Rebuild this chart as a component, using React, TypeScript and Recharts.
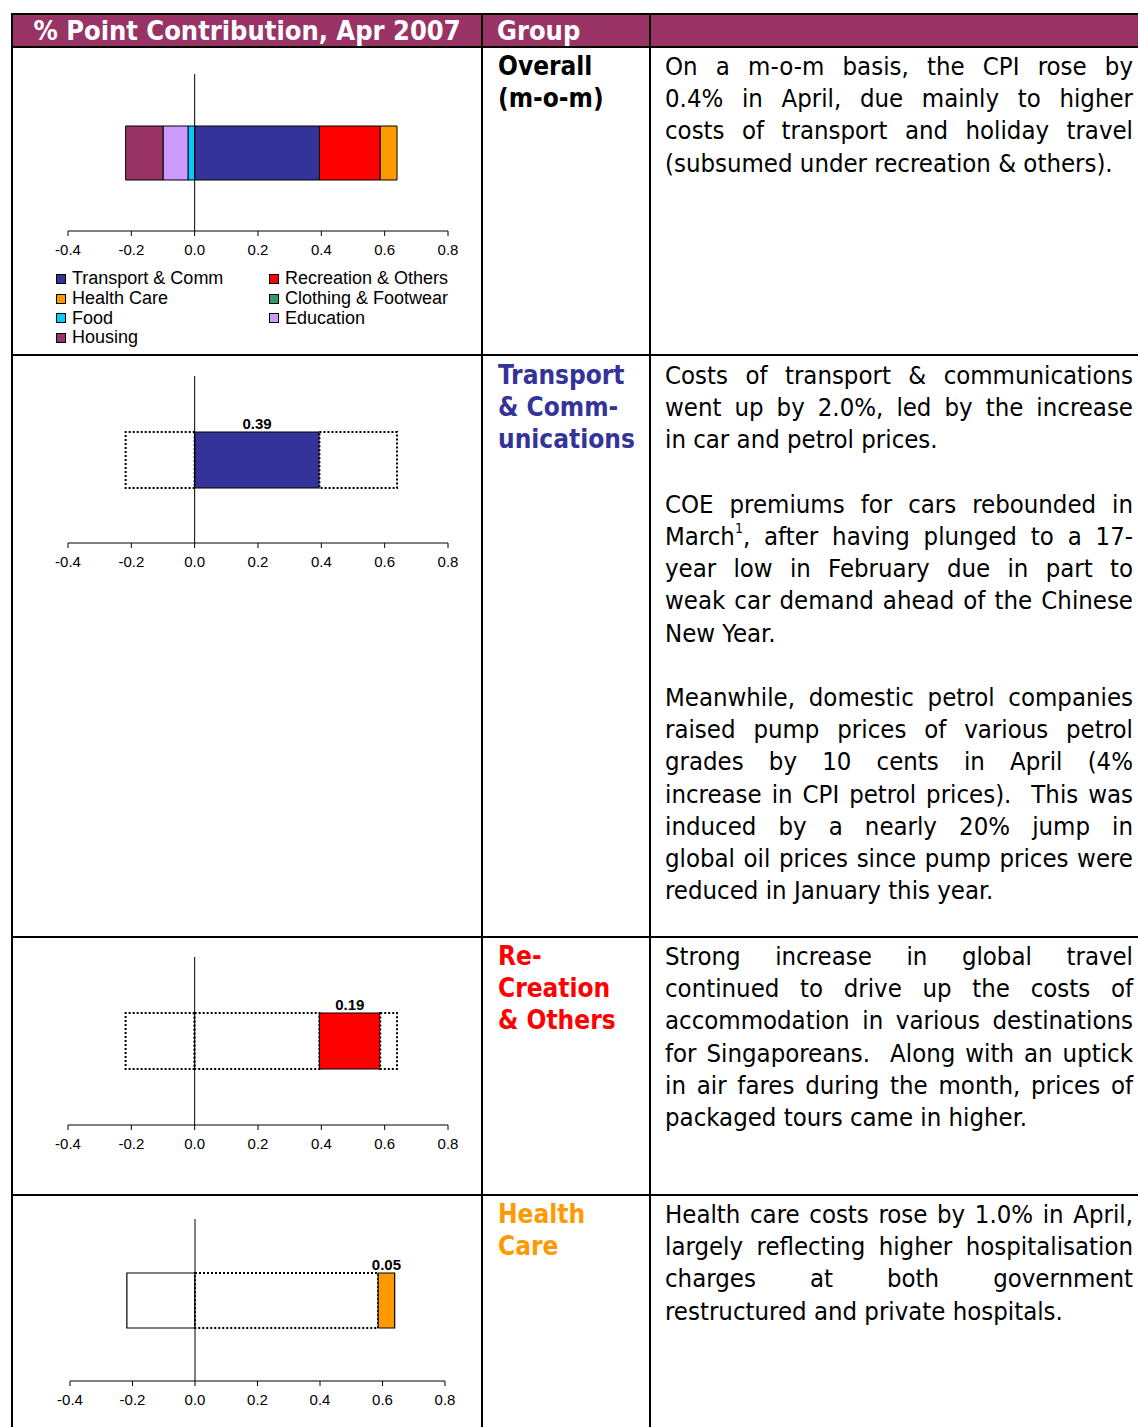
import React from 'react';
import { BarChart, Bar, XAxis, YAxis, ReferenceLine, Legend, LabelList } from 'recharts';

// values (% point contribution to m-o-m CPI change, Apr 2007)
const categories = ['Apr 2007'];
const groupNames = [
  'Transport & Comm',
  'Recreation & Others',
  'Health Care',
  'Clothing & Footwear',
  'Food',
  'Education',
  'Housing',
];
const contributions = [0.394, 0.192, 0.053, 0.0, -0.021, -0.079, -0.118];
const groupColors = ['#333399', '#FF0000', '#FF9900', '#339966', '#00CCFF', '#CC99FF', '#993366'];
const xTicks = [-0.4, -0.2, 0, 0.2, 0.4, 0.6, 0.8];

const CHART_FONT = '"Liberation Sans", Arial, sans-serif';
const TEXT_FONT = '"DejaVu Sans Condensed", "DejaVu Sans", sans-serif';
const HEADER_BG = '#993366';
const LINE_H = 32.2;

// text column, one entry per printed line; '' = blank line, last line of a paragraph ends with '|'
const overallText = [
  'On a m-o-m basis, the CPI rose by',
  '0.4% in April, due mainly to higher',
  'costs of transport and holiday travel',
  '(subsumed under recreation & others).|',
];
const transportText = [
  'Costs of transport & communications',
  'went up by 2.0%, led by the increase',
  'in car and petrol prices.|',
  '',
  'COE premiums for cars rebounded in',
  'March^1, after having plunged to a 17-',
  'year low in February due in part to',
  'weak car demand ahead of the Chinese',
  'New Year.|',
  '',
  'Meanwhile, domestic petrol companies',
  'raised pump prices of various petrol',
  'grades by 10 cents in April (4%',
  'increase in CPI petrol prices).  This was',
  'induced by a nearly 20% jump in',
  'global oil prices since pump prices were',
  'reduced in January this year.|',
];
const recreationText = [
  'Strong increase in global travel',
  'continued to drive up the costs of',
  'accommodation in various destinations',
  'for Singaporeans.  Along with an uptick',
  'in air fares during the month, prices of',
  'packaged tours came in higher.|',
];
const healthText = [
  'Health care costs rose by 1.0% in April,',
  'largely reflecting higher hospitalisation',
  'charges at both government',
  'restructured and private hospitals.|',
];

const overallData = categories.map((name) => {
  const row: Record<string, any> = { name };
  contributions.forEach((v, i) => {
    row[`k${i}`] = v;
  });
  return row;
});

function detailData(h: number) {
  let neg = 0;
  let before = 0;
  let after = 0;
  contributions.forEach((v, i) => {
    if (v < 0) neg += v;
    else if (i < h) before += v;
    else if (i > h) after += v;
  });
  return categories.map((name) => ({ name, neg, before, hi: contributions[h], after }));
}

const axisProps = {
  type: 'number' as const,
  domain: [-0.4, 0.8],
  ticks: xTicks,
  interval: 0 as const,
  allowDataOverflow: true,
  tickFormatter: (v: number) => v.toFixed(1),
  axisLine: { stroke: '#000' },
  tickLine: { stroke: '#000' },
  tickSize: 5,
  tickMargin: 8,
  tick: { fill: '#000', fontSize: 15, fontFamily: CHART_FONT },
};

const renderLegend = (props: any) => {
  const payload = props.payload || [];
  const items = groupNames
    .map((n) => payload.find((p: any) => p.value === n))
    .filter(Boolean);
  return (
    <div style={{ position: 'relative', width: 470, height: 82, fontFamily: CHART_FONT, fontSize: 18, color: '#000' }}>
      {items.map((it: any, i: number) => (
        <div
          key={it.value}
          style={{
            position: 'absolute',
            left: i % 2 === 0 ? 44 : 257,
            top: 1 + Math.floor(i / 2) * 19.7,
            height: 19.7,
            display: 'flex',
            alignItems: 'center',
            whiteSpace: 'nowrap',
          }}
        >
          <span style={{ width: 8, height: 8, border: '1px solid #000', background: it.color, marginRight: 6 }} />
          <span>{it.value}</span>
        </div>
      ))}
    </div>
  );
};

function OverallChart() {
  return (
    <BarChart
      width={470}
      height={308}
      data={overallData}
      layout="vertical"
      stackOffset="sign"
      barSize={54}
      margin={{ top: 27, right: 34, left: 56, bottom: 5 }}
    >
      <XAxis {...axisProps} height={37} />
      <YAxis type="category" dataKey="name" hide />
      {groupNames.map((g, i) => (
        <Bar
          key={g}
          dataKey={`k${i}`}
          name={g}
          stackId="a"
          fill={groupColors[i]}
          stroke="#000"
          strokeWidth={1}
          isAnimationActive={false}
        />
      ))}
      <ReferenceLine x={0} stroke="#000" strokeWidth={1} />
      <Legend verticalAlign="bottom" content={renderLegend} wrapperStyle={{ left: 0, width: 470, height: 82 }} />
    </BarChart>
  );
}

function DetailChart({
  h,
  height,
  top,
  left,
  right,
  barSize,
  negDashed,
}: {
  h: number;
  height: number;
  top: number;
  left: number;
  right: number;
  barSize: number;
  negDashed: boolean;
}) {
  const dash = '2 2';
  return (
    <BarChart
      width={470}
      height={height}
      data={detailData(h)}
      layout="vertical"
      stackOffset="sign"
      barSize={barSize}
      margin={{ top, right, left, bottom: 5 }}
    >
      <XAxis {...axisProps} height={30} />
      <YAxis type="category" dataKey="name" hide />
      <Bar
        dataKey="neg"
        stackId="a"
        fill="#fff"
        stroke="#000"
        strokeWidth={negDashed ? 2 : 1.2}
        strokeDasharray={negDashed ? dash : undefined}
        isAnimationActive={false}
      />
      <Bar dataKey="before" stackId="a" fill="#fff" stroke="#000" strokeWidth={2} strokeDasharray={dash} isAnimationActive={false} />
      <Bar dataKey="hi" stackId="a" fill={groupColors[h]} stroke="#000" strokeWidth={1.2} isAnimationActive={false}>
        <LabelList
          dataKey="hi"
          position="top"
          offset={3}
          formatter={(v: any) => Number(v).toFixed(2)}
          style={{ fill: '#000', fontSize: 15, fontWeight: 'bold', fontFamily: CHART_FONT }}
        />
      </Bar>
      <Bar dataKey="after" stackId="a" fill="#fff" stroke="#000" strokeWidth={2} strokeDasharray={dash} isAnimationActive={false} />
      <ReferenceLine x={0} stroke="#000" strokeWidth={1} />
    </BarChart>
  );
}

function TextBlock({ lines, x, y }: { lines: string[]; x: number; y: number }) {
  return (
    <div style={{ position: 'absolute', left: x, top: y, width: 468, fontFamily: TEXT_FONT, fontStretch: 'condensed', fontSize: 25.5, lineHeight: `${LINE_H}px`, color: '#000' }}>
      {lines.map((l, i) => {
        if (l === '') return <div key={i} style={{ height: LINE_H }} />;
        const last = l.endsWith('|');
        const txt = last ? l.slice(0, -1) : l;
        const parts = txt.split('^1');
        return (
          <div key={i} style={{ textAlign: last ? 'left' : 'justify', textAlignLast: last ? 'left' : 'justify', whiteSpace: 'pre-wrap' }}>
            {parts[0]}
            {parts.length > 1 && (
              <span style={{ fontSize: 14, position: 'relative', top: -12, lineHeight: 0 }}>1</span>
            )}
            {parts[1]}
          </div>
        );
      })}
    </div>
  );
}

function GroupLabel({ lines, color, y }: { lines: string[]; color: string; y: number }) {
  return (
    <div style={{ position: 'absolute', left: 498, top: y, fontFamily: TEXT_FONT, fontStretch: 'condensed', fontWeight: 'bold', fontSize: 26, lineHeight: `${LINE_H}px`, color, whiteSpace: 'nowrap' }}>
      {lines.map((l) => (
        <div key={l}>{l}</div>
      ))}
    </div>
  );
}

const hLine = (y: number) => (
  <div key={`h${y}`} style={{ position: 'absolute', left: 11, top: y - 1, width: 1127, height: 2, background: '#000' }} />
);
const vLine = (x: number) => (
  <div key={`v${x}`} style={{ position: 'absolute', left: x - 1, top: 13, width: 2, height: 1414, background: '#000' }} />
);

export default function App() {
  return (
    <div style={{ position: 'absolute', left: 0, top: 0, width: 1138, height: 1427, overflow: 'hidden', background: '#fff' }}>
      <div style={{ position: 'absolute', left: 12, top: 14, width: 1126, height: 33, background: HEADER_BG }} />
      <div style={{ position: 'absolute', left: 12, top: 14, width: 470, height: 33, lineHeight: '33px', textAlign: 'center', color: '#fff', fontFamily: TEXT_FONT, fontStretch: 'condensed', fontWeight: 'bold', fontSize: 27 }}>
        % Point Contribution, Apr 2007
      </div>
      <div style={{ position: 'absolute', left: 497, top: 14, height: 33, lineHeight: '33px', color: '#fff', fontFamily: TEXT_FONT, fontStretch: 'condensed', fontWeight: 'bold', fontSize: 27 }}>
        Group
      </div>

      <div style={{ position: 'absolute', left: 12, top: 47 }}>
        <OverallChart />
      </div>
      <div style={{ position: 'absolute', left: 12, top: 355 }}>
        <DetailChart h={0} height={223} top={21} left={56} right={34} barSize={56} negDashed />
      </div>
      <div style={{ position: 'absolute', left: 12, top: 937 }}>
        <DetailChart h={1} height={223} top={20} left={56} right={34} barSize={56} negDashed />
      </div>
      <div style={{ position: 'absolute', left: 12, top: 1195 }}>
        <DetailChart h={2} height={221} top={24} left={58} right={37} barSize={55} negDashed={false} />
      </div>

      <GroupLabel lines={['Overall', '(m-o-m)']} color="#000" y={50} />
      <GroupLabel lines={['Transport', '& Comm-', 'unications']} color="#333399" y={359} />
      <GroupLabel lines={['Re-', 'Creation', '& Others']} color="#FF0000" y={940} />
      <GroupLabel lines={['Health', 'Care']} color="#FF9900" y={1198} />

      <TextBlock lines={overallText} x={665} y={50} />
      <TextBlock lines={transportText} x={665} y={359} />
      <TextBlock lines={recreationText} x={665} y={940} />
      <TextBlock lines={healthText} x={665} y={1198} />

      {[14, 47, 355, 937, 1195].map(hLine)}
      {[12, 482, 650].map(vLine)}
    </div>
  );
}
